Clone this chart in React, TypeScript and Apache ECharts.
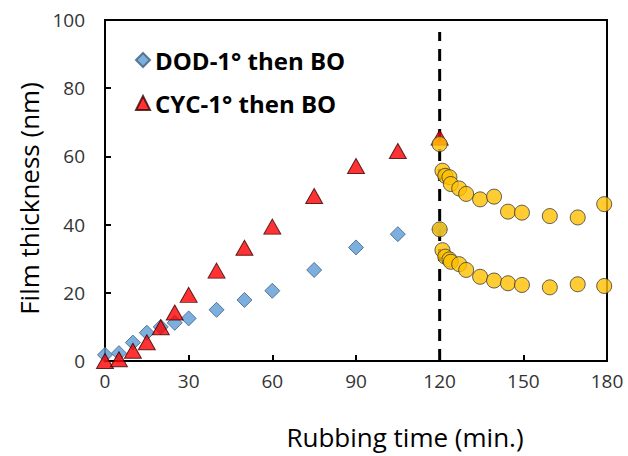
import React, { useEffect, useRef } from "react";
import * as echarts from "echarts";

const dodTime = [0, 5, 10, 15, 20, 25, 30, 40, 50, 60, 75, 90, 105, 120];
const dodThickness = [1.8, 2.3, 5.4, 8.3, 10, 11.2, 12.5, 15, 17.9, 20.6, 26.7, 33.3, 37.2, 38.6];

const cycTime = [0, 5, 10, 15, 20, 25, 30, 40, 50, 60, 75, 90, 105, 120];
const cycThickness = [0, 0.5, 3, 5.5, 9.9, 14.2, 19.4, 26.5, 33.2, 39.4, 48.4, 57.2, 61.6, 65.5];

const boTime = [120, 121, 122, 123.5, 124, 127, 129.5, 134.5, 139.5, 144.5, 149.5, 159.5, 169.5, 179];
const boUpper = [63.6, 55.8, 54.3, 53.9, 51.9, 50.6, 49, 47.4, 48.2, 43.8, 43.5, 42.5, 42.1, 46];
const boLower = [38.6, 32.5, 30.6, 29.8, 29.1, 28.4, 26.7, 24.7, 23.6, 22.8, 22.3, 21.6, 22.5, 22];

const dividerTime = [120, 120];
const dividerRange = [0, 96.5];

const xTicks = { min: 0, max: 180, interval: 30 };
const yTicks = { min: 0, max: 100, interval: 20 };

const zip = (xs: number[], ys: number[]) => xs.map((x, i) => [x, ys[i]]);

export default function App() {
  const ref = useRef<HTMLDivElement>(null);
  useEffect(() => {
    if (!ref.current) return;
    const chart = echarts.init(ref.current, undefined, { renderer: "svg" });
    const font = "'Open Sans', 'Liberation Sans', sans-serif";
    const circleStyle = { color: "#FFC000", borderColor: "#3a3a3a", borderWidth: 1 };
    const stroke = { color: "#000000", width: 2 };
    chart.setOption({
      animation: false,
      backgroundColor: "#ffffff",
      grid: {
        left: 105,
        right: 21,
        top: 20,
        bottom: 95,
        show: true,
        borderColor: "#000000",
        borderWidth: 2,
        backgroundColor: "rgba(0,0,0,0)",
      },
      legend: {
        orient: "vertical",
        left: 130,
        top: 43,
        itemGap: 19,
        itemWidth: 14,
        itemHeight: 14,
        data: ["DOD-1° then BO", "CYC-1° then BO"],
        textStyle: { fontFamily: font, fontWeight: "bold", fontSize: 24, color: "#000" },
      },
      xAxis: {
        type: "value",
        min: xTicks.min,
        max: xTicks.max,
        interval: xTicks.interval,
        name: "Rubbing time (min.)",
        nameLocation: "middle",
        nameGap: 63,
        nameTextStyle: { fontFamily: font, fontSize: 26, color: "#000", padding: [0, 0, 0, 98] },
        axisLine: { show: true, onZero: false, lineStyle: stroke },
        axisTick: { show: true, inside: true, length: 6, lineStyle: stroke },
        axisLabel: { fontFamily: font, fontSize: 19, color: "#333", margin: 10 },
        splitLine: { show: false },
      },
      yAxis: {
        type: "value",
        min: yTicks.min,
        max: yTicks.max,
        interval: yTicks.interval,
        name: "Film thickness (nm)",
        nameLocation: "middle",
        nameGap: 62,
        nameTextStyle: { fontFamily: font, fontSize: 26, color: "#000", padding: [0, 16, 0, 0] },
        axisLine: { show: true, onZero: false, lineStyle: stroke },
        axisTick: { show: true, inside: true, length: 6, lineStyle: stroke },
        axisLabel: { fontFamily: font, fontSize: 19, color: "#333", margin: 20 },
        splitLine: { show: false },
      },
      series: [
        {
          name: "divider",
          type: "line",
          data: zip(dividerTime, dividerRange),
          symbol: "none",
          lineStyle: { color: "#000", width: 3, type: [12, 8] },
          silent: true,
          z: 1,
        },
        {
          name: "DOD-1° then BO",
          type: "scatter",
          data: zip(dodTime, dodThickness),
          symbol: "diamond",
          symbolSize: 15,
          itemStyle: { color: "#5B9BD5", borderColor: "#3d5f80", borderWidth: 1 },
          z: 2,
        },
        {
          name: "CYC-1° then BO",
          type: "scatter",
          data: zip(cycTime, cycThickness),
          symbol: "triangle",
          symbolSize: [17, 15],
          itemStyle: { color: "#FF0000", borderColor: "#3a0000", borderWidth: 1 },
          z: 3,
        },
        {
          name: "BO upper",
          type: "scatter",
          data: zip(boTime, boUpper),
          symbol: "circle",
          symbolSize: 15,
          itemStyle: circleStyle,
          z: 4,
        },
        {
          name: "BO lower",
          type: "scatter",
          data: zip(boTime, boLower),
          symbol: "circle",
          symbolSize: 15,
          itemStyle: circleStyle,
          z: 4,
        },
      ],
    });
    return () => chart.dispose();
  }, []);
  return <div ref={ref} style={{ width: 628, height: 456, position: "absolute", left: 0, top: 0 }} />;
}
